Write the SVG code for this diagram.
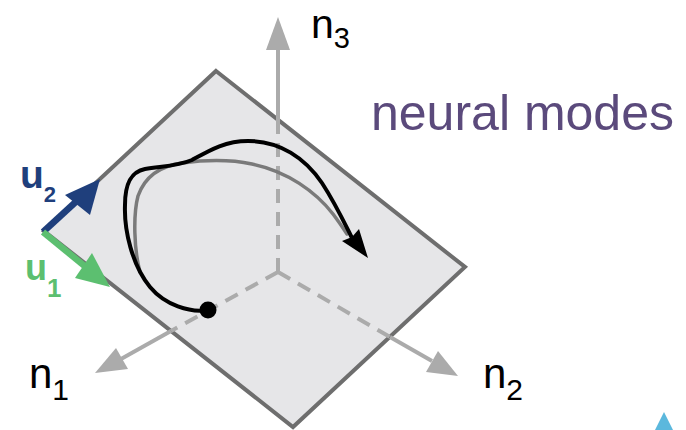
<svg xmlns="http://www.w3.org/2000/svg" width="686" height="430" viewBox="0 0 686 430">
<style>
.axis{stroke:#ababab;stroke-width:4;fill:none}
.dash{stroke-dasharray:14 9}
.head{fill:#ababab}
.lbl{font-family:"Liberation Sans",Arial,sans-serif;fill:#000}
.ulbl{font-family:"Liberation Sans",Arial,sans-serif;font-weight:bold}
</style>
<rect width="686" height="430" fill="#ffffff"/>
<g id="plane">
<polygon points="216,71 465,267 293,427 44,231" fill="#e6e6e8" stroke="#6e6e6e" stroke-width="4" stroke-linejoin="miter"/>
</g>
<g id="connectors">
<g id="axis-n3">
<line class="axis dash" x1="278" y1="272" x2="278" y2="120"/>
<line class="axis" x1="278" y1="121" x2="278" y2="48"/>
<polygon class="head" points="278,17 266,50 290,50"/>
</g>
<g id="axis-n1">
<line class="axis dash" x1="278" y1="272" x2="171" y2="331"/>
<line class="axis" x1="171" y1="331" x2="121" y2="359"/>
<polygon class="head" points="95,373 116,348 128,369"/>
</g>
<g id="axis-n2">
<line class="axis dash" x1="278" y1="272" x2="390" y2="337"/>
<line class="axis" x1="390" y1="337" x2="432" y2="361"/>
<polygon class="head" points="458,376 426,372 438,351"/>
</g>
<g id="arrow-u2">
<line x1="43" y1="232" x2="80" y2="198" stroke="#1f3f7c" stroke-width="6.5"/>
<polygon points="100,179 65,195 90,215" fill="#1f3f7c"/>
</g>
<g id="arrow-u1">
<line x1="43" y1="232" x2="87" y2="268" stroke="#5cbf70" stroke-width="6.5"/>
<polygon points="110,287 75,278 92,253" fill="#5cbf70"/>
</g>
<g id="trajectory">
<path d="M140,272 C134,250 133,215 138,196 C145,176 160,166 182,163 C205,160 228,159 252,164 C287,171 316,192 333,214 C339,222 343,228 347,234" fill="none" stroke="#7a7a7a" stroke-width="3.5" stroke-linecap="round"/>
<path d="M208,310 C190,313 165,305 150,287 C132,265 124,230 125,205 C125,185 130,172 145,169 C165,166 178,166 192,160 C210,150 225,141 248,141 C280,141 305,158 322,183 C335,203 344,222 351,236" fill="none" stroke="#000" stroke-width="4" stroke-linecap="round"/>
<polygon points="368,258 342,241 352,237 359,229" fill="#000"/>
<circle cx="208" cy="310" r="8.5" fill="#000"/>
</g>
</g>
<g id="labels">
<text class="lbl" x="311" y="38" font-size="41">n<tspan font-size="29" dy="10">3</tspan></text>
<text class="lbl" x="29" y="388" font-size="42">n<tspan font-size="30" dy="12">1</tspan></text>
<text class="lbl" x="483" y="388" font-size="42">n<tspan font-size="30" dy="12">2</tspan></text>
<text x="371" y="130" font-family="'Liberation Sans',Arial,sans-serif" font-size="50" fill="#5b4a7c">neural modes</text>
<text class="ulbl" x="20" y="188" font-size="39" fill="#1f3f7c">u<tspan font-size="22" dy="14">2</tspan></text>
<text class="ulbl" x="25" y="280" font-size="36" fill="#5cbf70">u<tspan font-size="26" dy="17">1</tspan></text>
</g>
<polygon points="664,412 655,430 673,430" fill="#5bb8dd"/>
</svg>
